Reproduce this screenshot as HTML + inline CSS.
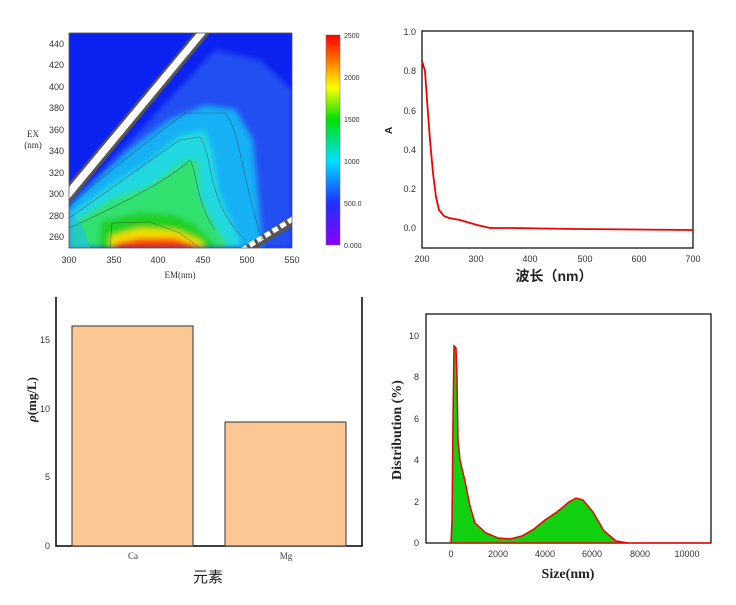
<!DOCTYPE html>
<html><head><meta charset="utf-8"><style>
body{margin:0;background:#fff;width:736px;height:605px;overflow:hidden}
svg{display:block}
text{font-family:"Liberation Sans","Noto Sans CJK SC",sans-serif}
.t{font-size:9px;fill:#333}
.s{font-family:"Liberation Serif","Noto Serif CJK SC",serif}
</style></head><body>
<svg width="736" height="605" viewBox="0 0 736 605" xmlns="http://www.w3.org/2000/svg">
<defs>
<clipPath id="c1"><rect x="69" y="33" width="223" height="215"/></clipPath>
<filter id="bl" x="-20%" y="-20%" width="140%" height="140%"><feGaussianBlur stdDeviation="3"/></filter>
<linearGradient id="cb" x1="0" y1="1" x2="0" y2="0">
<stop offset="0" stop-color="#8a00ff"/><stop offset="0.2" stop-color="#2030ff"/><stop offset="0.4" stop-color="#00e0ff"/><stop offset="0.6" stop-color="#00e000"/><stop offset="0.75" stop-color="#ffff00"/><stop offset="0.9" stop-color="#ff6000"/><stop offset="1" stop-color="#ff0000"/></linearGradient>
</defs>
<g clip-path="url(#c1)">
<rect x="69" y="33" width="223" height="215" fill="#0c22f0"/>
<g filter="url(#bl)">
<polygon points="69,205 150,120 215,50 260,60 292,90 292,248 69,248" fill="#2450f2"/>
<polygon points="69,205 130,150 170,120 205,106 235,110 252,140 258,200 262,248 69,248" fill="#18b0f5"/>
<polygon points="69,215 110,185 150,160 180,135 205,130 212,150 220,195 240,240 240,248 69,248" fill="#20d8e0"/>
<polygon points="69,225 110,200 150,185 185,160 198,160 200,195 215,225 230,248 69,248" fill="#30e070"/>
<polygon points="100,222 140,212 175,215 195,225 210,240 215,248 100,248" fill="#20d020"/>
<polygon points="110,236 140,228 175,230 200,240 205,248 110,248" fill="#f0e000"/>
<polygon points="115,243 140,238 175,238 195,245 195,248 115,248" fill="#ff4000"/>
</g>
<polygon points="69,206 69,248 90,248 84,230" fill="#20c0e0" opacity="0.7"/>
<polygon points="69,183 194,33 210,33 69,204" fill="#555"/>
<polygon points="69,187 197,33 206,33 69,199" fill="#fff"/>
<polygon points="236,252 300,210 300,222 244,256" fill="#555"/>
<line x1="242" y1="250" x2="296" y2="217" stroke="#fff" stroke-width="5" stroke-dasharray="6,3"/>
<g fill="none" stroke="#333" stroke-width="0.6" opacity="0.6">
<path d="M69,206 C110,170 150,140 185,113 L225,113 C240,130 240,170 262,240"/>
<path d="M69,218 C110,190 150,160 180,140 L200,137 C215,160 205,200 245,240"/>
<path d="M69,228 C110,210 170,180 190,160 C198,175 195,200 215,230"/>
<path d="M110,248 L112,223 L150,222 L180,233 L200,248"/>
</g>
</g>
<rect x="69" y="33" width="223" height="215" fill="none" stroke="#555" stroke-width="0.8"/>
<g class="t" text-anchor="end">
<text x="64" y="47">440</text><text x="64" y="68">420</text><text x="64" y="90">400</text><text x="64" y="111">380</text><text x="64" y="133">360</text><text x="64" y="154">340</text><text x="64" y="176">320</text><text x="64" y="197">300</text><text x="64" y="219">280</text><text x="64" y="240">260</text>
</g>
<g class="t" text-anchor="middle">
<text x="69" y="263">300</text><text x="114" y="263">350</text><text x="158" y="263">400</text><text x="203" y="263">450</text><text x="247" y="263">500</text><text x="292" y="263">550</text>
<text x="180" y="278" class="t s">EM(nm)</text>
<text x="33" y="137" class="t s">EX</text><text x="33" y="148" class="t s">(nm)</text>
</g>
<rect x="326" y="35" width="14" height="210" fill="url(#cb)" stroke="#666" stroke-width="0.5"/>
<g font-size="7" fill="#333" class="s">
<text x="344" y="38">2500</text><text x="344" y="80">2000</text><text x="344" y="122">1500</text><text x="344" y="164">1000</text><text x="344" y="206">500.0</text><text x="344" y="248">0.000</text>
</g>
<rect x="422" y="31" width="271" height="217" fill="none" stroke="#000" stroke-width="1.2"/>
<g class="t" text-anchor="end" font-size="8">
<text x="416" y="35">1.0</text><text x="416" y="74">0.8</text><text x="416" y="114">0.6</text><text x="416" y="153">0.4</text><text x="416" y="192">0.2</text><text x="416" y="231">0.0</text>
</g>
<g class="t" text-anchor="middle" font-size="8">
<text x="422" y="262">200</text><text x="476" y="262">300</text><text x="530" y="262">400</text><text x="585" y="262">500</text><text x="639" y="262">600</text><text x="693" y="262">700</text>
</g>
<text x="554" y="281" text-anchor="middle" font-size="14" font-weight="bold" fill="#222">波长（nm）</text>
<text x="392" y="134" font-size="10" font-weight="bold" fill="#222" transform="rotate(-90 392 134)">A</text>
<polyline fill="none" stroke="#e00" stroke-width="1.8" points="422,61 425,71 427,100 430,140 433,173 436,197 439,210 444,216 449,218 460,220 477,225 490,228 512,228 576,229 693,230"/>
<polyline points="56,297 56,546 362,546 362,297" fill="none" stroke="#000" stroke-width="1.5"/>
<rect x="72" y="326" width="121" height="220" fill="#fbc795" stroke="#333" stroke-width="1"/>
<rect x="225" y="422" width="121" height="124" fill="#fbc795" stroke="#333" stroke-width="1"/>
<g class="t" text-anchor="end" font-size="8">
<text x="50" y="343">15</text><text x="50" y="412">10</text><text x="50" y="480">5</text><text x="50" y="549">0</text>
</g>
<text x="133" y="559" class="t s" font-size="7" text-anchor="middle">Ca</text>
<text x="286" y="559" class="t s" font-size="7" text-anchor="middle">Mg</text>
<text x="208" y="582" font-size="15" text-anchor="middle" fill="#222">元素</text>
<text x="36" y="422" font-size="13" font-weight="bold" fill="#222" class="s" transform="rotate(-90 36 422)"><tspan font-style="italic">ρ</tspan>(mg/L)</text>
<rect x="426" y="314" width="285" height="229" fill="none" stroke="#000" stroke-width="1.2"/>
<path fill="#10d010" stroke="#e00" stroke-width="1.5" d="M451,543 L452,522 L453,419 L454,346 L456,348 L457,377 L458,440 L460,460 L465,481 L470,506 L475,523 L486,533 L498,538 L510,539 L522,536 L534,529 L545,520 L557,512 L569,502 L576,498 L583,500 L593,512 L604,531 L616,541 L628,543 L711,543 Z"/>
<g class="t" text-anchor="end" font-size="8">
<text x="419" y="339">10</text><text x="419" y="380">8</text><text x="419" y="422">6</text><text x="419" y="463">4</text><text x="419" y="505">2</text><text x="419" y="546">0</text>
</g>
<g class="t" text-anchor="middle" font-size="8">
<text x="451" y="557">0</text><text x="498" y="557">2000</text><text x="545" y="557">4000</text><text x="592" y="557">6000</text><text x="640" y="557">8000</text><text x="687" y="557">10000</text>
</g>
<text x="568" y="578" text-anchor="middle" font-size="14" font-weight="bold" fill="#222" class="s">Size(nm)</text>
<text x="401" y="430" text-anchor="middle" font-size="14" font-weight="bold" fill="#222" class="s" transform="rotate(-90 401 430)">Distribution (%)</text>
</svg>
</body></html>
